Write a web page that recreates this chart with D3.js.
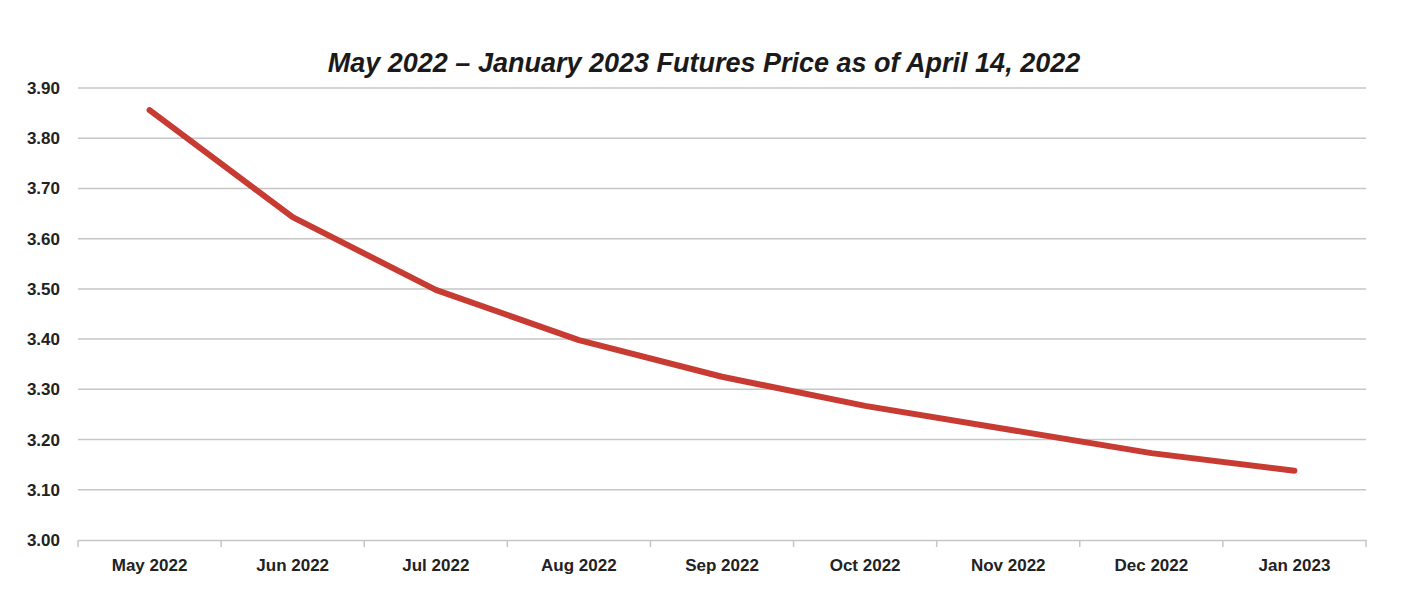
<!DOCTYPE html>
<html><head><meta charset="utf-8">
<script src="https://cdn.jsdelivr.net/npm/d3@7"></script>
<style>body{margin:0;background:#fff;}text{font-family:"Liberation Sans",Arial,sans-serif;}</style>
</head><body>
<svg id="c" width="1406" height="616"></svg>
<script>
const categories = ["May 2022","Jun 2022","Jul 2022","Aug 2022","Sep 2022","Oct 2022","Nov 2022","Dec 2022","Jan 2023"];
const prices = [3.856,3.643,3.498,3.398,3.325,3.267,3.220,3.173,3.138];
const yTicks = [3.00,3.10,3.20,3.30,3.40,3.50,3.60,3.70,3.80,3.90];
const title = "May 2022 \u2013 January 2023 Futures Price as of April 14, 2022";

const svg = d3.select("#c");
const m = {left:78, right:1366, top:88, bottom:540};
const x = d3.scaleBand().domain(categories).range([m.left,m.right]);
const y = d3.scaleLinear().domain([3.0,3.9]).range([m.bottom,m.top]);

svg.append("text").attr("x",704).attr("y",72).attr("text-anchor","middle")
  .attr("font-size",27).attr("font-weight","bold").attr("font-style","italic").attr("fill","#1a1a1a").text(title);

// gridlines
svg.append("g").selectAll("line").data(yTicks.filter(d=>d>3.0)).join("line")
  .attr("x1",m.left).attr("x2",m.right).attr("y1",d=>y(d)).attr("y2",d=>y(d))
  .attr("stroke","#c6c6c6").attr("stroke-width",1.5);

// y axis labels
const ya = svg.append("g").attr("transform",`translate(${m.left},0)`)
  .call(d3.axisLeft(y).tickValues(yTicks).tickFormat(d3.format(".2f")).tickSize(0).tickPadding(18));
ya.select(".domain").remove();
ya.selectAll("text").attr("font-size",17).attr("font-weight","bold").attr("fill","#222")
  .style("font-family","'Liberation Sans',Arial,sans-serif");

// x axis
const xa = svg.append("g").attr("transform",`translate(0,${m.bottom})`)
  .call(d3.axisBottom(x).tickSize(0).tickPadding(19));
xa.select(".domain").attr("stroke","#c6c6c6").attr("stroke-width",1.5);
xa.selectAll("text").attr("font-size",17).attr("font-weight","bold").attr("fill","#222")
  .style("font-family","'Liberation Sans',Arial,sans-serif");
const edges = categories.map(c=>x(c)).concat([m.right]);
xa.append("g").selectAll("line").data(edges).join("line")
  .attr("x1",d=>d).attr("x2",d=>d).attr("y1",0).attr("y2",7)
  .attr("stroke","#c6c6c6").attr("stroke-width",1.5);

// line
const line = d3.line().x((d,i)=>x(categories[i])+x.bandwidth()/2).y(d=>y(d));
svg.append("path").datum(prices).attr("d",line).attr("fill","none")
  .attr("stroke","#c73b32").attr("stroke-width",6).attr("stroke-linecap","round").attr("stroke-linejoin","round");
</script>
</body></html>
